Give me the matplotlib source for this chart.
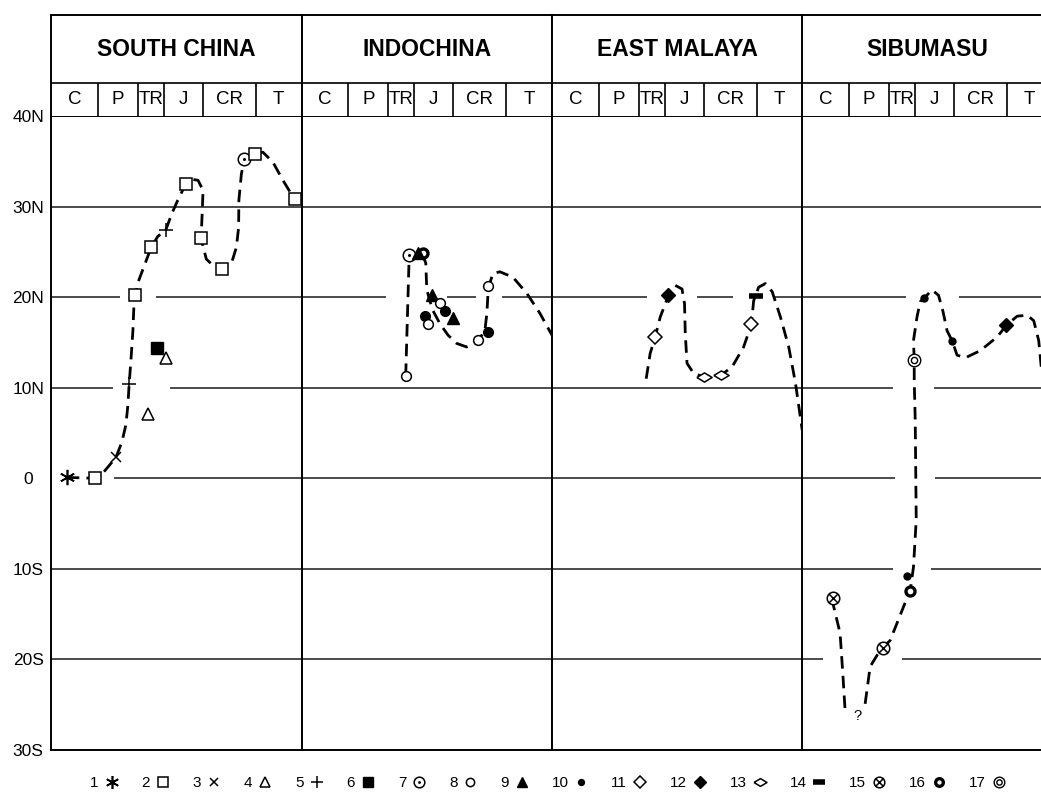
import numpy as np
import matplotlib
matplotlib.use('Agg')
import matplotlib.pyplot as plt
from matplotlib.lines import Line2D
from matplotlib.path import Path

plt.rcParams['font.family'] = ['Liberation Sans', 'DejaVu Sans']

# Time axis: 0-100 across each terrane column, period boundaries as drawn
PERIODS = ['C', 'P', 'TR', 'J', 'CR', 'T']
PERIOD_EDGES = [0, 18.7, 34.7, 45.0, 60.6, 81.7, 100]
LAT_TICKS = [-30, -20, -10, 0, 10, 20, 30, 40]
LAT_LABELS = ['30S', '20S', '10S', '0', '10N', '20N', '30N', '40N']
GRID_LATS = [30, 20, 10, 0, -10, -20]

# South China
sc_pts_u = [6.3, 17.5, 25.9, 31.2, 33.7, 42.4, 45.8, 38.9, 40.0, 45.8, 53.8, 59.9, 68.4, 77.2, 81.4, 97.3]
sc_pts_lat = [0.1, 0.0, 2.3, 10.4, 20.2, 14.4, 13.3, 7.1, 25.5, 27.4, 32.5, 26.5, 23.1, 35.2, 35.8, 30.8]
sc_pts_sym = [1, 2, 3, 5, 2, 6, 4, 4, 2, 5, 2, 2, 2, 7, 2, 2]
sc_curve_u = [6.3, 17.5, 21.1, 25.9, 28.3, 29.9, 30.7, 31.2, 31.9, 32.7, 33.1, 33.7, 34.7, 38.1, 40.0,
              42.6, 45.8, 48.2, 50.6, 53.8, 56.5, 58.7, 60.7, 60.4, 60.0, 59.9, 62.0, 64.7, 68.4, 72.0,
              74.0, 74.9, 75.0, 76.0, 77.2, 81.4, 84.6, 88.6, 92.6, 95.9, 97.3]
sc_curve_lat = [0.1, 0.0, 0.7, 2.3, 4.0, 5.9, 8.1, 10.4, 13.0, 16.3, 19.1, 20.1, 21.6, 24.1, 25.5,
                26.7, 27.4, 29.2, 30.7, 32.5, 33.0, 32.9, 31.8, 29.6, 27.0, 26.5, 24.2, 23.5, 23.1, 23.7,
                25.5, 27.7, 30.7, 33.6, 35.2, 35.8, 36.0, 34.9, 32.9, 31.4, 30.8]
sc_gaps = {20: [(27.5, 41.8)], 10: [(24.6, 47.4)], 0: [(0, 25.1)]}

# Indochina
ic_pts_u = [42.9, 41.6, 48.6, 46.6, 51.9, 55.2, 57.2, 60.3, 49.2, 50.5, 70.5, 74.5, 74.5]
ic_pts_lat = [24.7, 11.3, 24.9, 24.9, 20.2, 19.3, 18.5, 17.7, 17.9, 17.0, 15.3, 16.1, 21.2]
ic_pts_sym = [7, 8, 16, 9, 9, 8, '10b', 9, '10b', 8, 8, '10b', 8]
ic_curve_u = [41.6, 42.3, 43.0, np.nan,
              48.0, 49.6, 50.0, 51.0, 52.5, 55.2, 58.5, 61.9, 65.9, 70.0, 73.2, 74.0, 74.4, 74.8,
              76.4, 79.2, 84.4, 90.0, 95.2, 100.0]
ic_curve_lat = [11.3, 18.0, 24.7, np.nan,
                24.8, 23.8, 20.9, 19.8, 18.5, 17.1, 15.8, 14.9, 14.5, 15.0, 16.3, 18.2, 20.2, 21.2,
                22.6, 22.8, 22.2, 20.4, 18.2, 15.8]
ic_gaps = {20: [(33.9, 57.9), (69.6, 79.9)]}

# East Malaya
em_pts_u = [41.2, 46.5, 60.5, 67.5, 79.6, 81.5]
em_pts_lat = [15.6, 20.2, 11.2, 11.4, 17.0, 20.1]
em_pts_sym = [11, 12, 13, 13, 11, 14]
em_curve_u = [37.6, 39.2, 41.2, 43.2, 46.5, 49.2, 51.9, 52.9, 53.2, 53.9, 56.5, 60.5, 67.5, 71.9,
              76.5, 79.6, 80.5, 82.5, 85.2, 87.9, 91.2, 94.5, 97.2, 99.9]
em_curve_lat = [11.0, 13.8, 15.6, 17.8, 20.2, 21.3, 20.9, 19.3, 16.0, 12.7, 11.6, 11.2, 11.4, 12.3,
                14.5, 17.0, 19.6, 21.1, 21.5, 20.6, 17.8, 14.5, 10.5, 5.3]
em_gaps = {20: [(38.1, 57.9), (72.3, 88.8)]}

# Sibumasu
sb_pts_u = [12.5, 32.3, 42.1, 43.2, 44.8, 48.8, 59.9, 81.6]
sb_pts_lat = [-13.2, -18.7, -10.8, -12.4, 13.1, 19.9, 15.2, 16.9]
sb_pts_sym = [15, 15, 10, 16, 17, 10, 10, 12]
sb_curve_u = [12.5, 12.5, 15.2, 16.3, 17.2, np.nan, 25.2, 27.2, 30.5, 32.3, 35.2, 40.5, 43.2, 44.5,
              45.6, 45.2, 44.8, 44.8, 44.5, 45.9, 47.2, 48.8, 51.9, 54.5, 56.3, 57.9, 59.9, 61.9,
              65.2, 71.2, 77.9, 81.6, 85.9, 89.9, 92.5, 94.5, 95.5, 97.2]
sb_curve_lat = [-13.2, -14.0, -17.1, -21.6, -25.6, np.nan, -24.9, -20.8, -19.3, -18.7, -17.9, -14.2,
                -12.4, -9.8, -4.6, 6.4, 10.8, 13.1, 15.2, 17.8, 19.5, 19.9, 20.8, 20.2, 18.4, 16.3,
                15.2, 13.6, 13.3, 14.1, 15.6, 16.9, 17.9, 18.0, 17.4, 15.2, 12.3, 8.6]
sb_gaps = {20: [(41.6, 62.5)], 10: [(36.3, 52.5)], 0: [(37.2, 53.2)],
           -10: [(36.5, 51.5)], -20: [(8.3, 39.9)]}
sb_query = (22.1, -26.2)

PANELS = [
    ('SOUTH CHINA', sc_pts_u, sc_pts_lat, sc_pts_sym, sc_curve_u, sc_curve_lat, sc_gaps),
    ('INDOCHINA', ic_pts_u, ic_pts_lat, ic_pts_sym, ic_curve_u, ic_curve_lat, ic_gaps),
    ('EAST MALAYA', em_pts_u, em_pts_lat, em_pts_sym, em_curve_u, em_curve_lat, em_gaps),
    ('SIBUMASU', sb_pts_u, sb_pts_lat, sb_pts_sym, sb_curve_u, sb_curve_lat, sb_gaps),
]


def ring_path(inner, extra=None):
    circ = Path.unit_circle()
    parts = [circ]
    if inner:
        parts.append(Path(circ.vertices * inner, circ.codes))
    if extra:
        parts.extend(extra)
    return Path.make_compound_path(*parts)


DOT_RING = ring_path(0.12)
DOUBLE_RING = ring_path(0.5)
CROSS_RING = ring_path(None, [Path([(-0.7, -0.7), (0.7, 0.7)], [Path.MOVETO, Path.LINETO]),
                              Path([(-0.7, 0.7), (0.7, -0.7)], [Path.MOVETO, Path.LINETO])])
WIDE_DIAMOND = [(-1.5, 0), (0, 0.9), (1.5, 0), (0, -0.9), (-1.5, 0)]

STYLE = {
    1: dict(marker=(6, 2, 0), ms=11, mec='k', mew=1.2),
    2: dict(marker='s', ms=8, mfc='w', mec='k', mew=1.1),
    3: dict(marker='x', ms=7.5, mec='k', mew=1.1),
    4: dict(marker='^', ms=8.5, mfc='w', mec='k', mew=1.1),
    5: dict(marker='+', ms=10.5, mec='k', mew=1.1),
    6: dict(marker='s', ms=8, mfc='k', mec='k'),
    7: dict(marker=DOT_RING, ms=9, mfc='w', mec='k', mew=1.1),
    8: dict(marker='o', ms=7, mfc='w', mec='k', mew=1.1),
    9: dict(marker='^', ms=8, mfc='k', mec='k'),
    10: dict(marker='o', ms=5, mfc='k', mec='k'),
    '10b': dict(marker='o', ms=7, mfc='k', mec='k'),
    11: dict(marker='D', ms=7.5, mfc='w', mec='k', mew=1.1),
    12: dict(marker='D', ms=7.5, mfc='k', mec='k'),
    13: dict(marker=WIDE_DIAMOND, ms=11, mfc='w', mec='k', mew=1.1),
    14: dict(marker='_', ms=10, mec='k', mew=4),
    15: dict(marker=CROSS_RING, ms=9, mfc='w', mec='k', mew=1.1),
    16: dict(marker='o', ms=6.5, mfc='w', mec='k', mew=2.4),
    17: dict(marker=DOUBLE_RING, ms=9, mfc='w', mec='k', mew=1.0),
}

W, H = 1041, 800
PANEL_LEFT = [51, 301.5, 552, 802]
PANEL_W = 250.5
PLOT_TOP, PLOT_BOT, HDR_TOP, HDR_MID = 116, 750, 15, 83
PERIOD_FRAC = (PLOT_TOP - HDR_MID) / (PLOT_TOP - HDR_TOP)


def grid_segments(gaps):
    # pieces of a 0-100 line left after removing gaps
    segs, start = [], 0
    for g0, g1 in sorted(gaps):
        if g0 > start:
            segs.append((start, g0))
        start = g1
    if start < 100:
        segs.append((start, 100))
    return segs


fig = plt.figure(figsize=(W / 100, H / 100), dpi=100)
fig.patch.set_facecolor('white')

for i, (title, pu, plat, psym, cu, clat, gaps) in enumerate(PANELS):
    left = PANEL_LEFT[i] / W
    width = PANEL_W / W
    ax = fig.add_axes([left, 1 - PLOT_BOT / H, width, (PLOT_BOT - PLOT_TOP) / H])
    ax.set_xlim(0, 100)
    ax.set_ylim(-30, 40)
    for s in ax.spines.values():
        s.set_linewidth(1.4)
    ax.set_xticks([])
    ax.set_yticks(LAT_TICKS)
    if i == 0:
        ax.set_yticklabels(LAT_LABELS, fontsize=12.5)
        ax.tick_params(axis='y', length=0, pad=16.5)
        for lbl in ax.get_yticklabels():
            lbl.set_ha('center')
    else:
        ax.set_yticklabels([])
        ax.tick_params(axis='y', length=0)

    for lat in GRID_LATS:
        for x0, x1 in grid_segments(gaps.get(lat, [])):
            ax.hlines(lat, x0, x1, color='#1a1a1a', lw=1.1, zorder=1)

    ax.plot(cu, clat, color='k', lw=2.0, dashes=(4.5, 2.6), zorder=3)
    for u, lat, sym in zip(pu, plat, psym):
        ax.plot([u], [lat], ls='none', zorder=4, **STYLE[sym])
    if title == 'SIBUMASU':
        ax.text(sb_query[0], sb_query[1], '?', ha='center', va='center', fontsize=10.5)

    hdr = fig.add_axes([left, 1 - PLOT_TOP / H, width, (PLOT_TOP - HDR_TOP) / H])
    hdr.set_xlim(0, 100)
    hdr.set_ylim(0, 1)
    hdr.set_xticks([])
    hdr.set_yticks([])
    for s in hdr.spines.values():
        s.set_linewidth(1.4)
    hdr.spines['bottom'].set_visible(False)
    hdr.axhline(PERIOD_FRAC, color='k', lw=1.2)
    hdr.vlines(PERIOD_EDGES[1:-1], 0, PERIOD_FRAC, color='k', lw=1.2)
    hdr.text(50, (1 + PERIOD_FRAC) / 2, title, ha='center', va='center',
             fontsize=16.5, fontweight='bold')
    for name, a, b in zip(PERIODS, PERIOD_EDGES[:-1], PERIOD_EDGES[1:]):
        hdr.text((a + b) / 2, PERIOD_FRAC / 2, name, ha='center', va='center', fontsize=13.5)

handles = [Line2D([], [], ls='none', **STYLE[k]) for k in range(1, 18)]
labels = [str(k) for k in range(1, 18)]
fig.legend(handles, labels, loc='center', bbox_to_anchor=(0.527, 0.021), ncol=17,
           frameon=False, markerfirst=False, handlelength=1.1, handletextpad=0.3,
           columnspacing=1.4, fontsize=11, markerscale=0.85)

fig.savefig('out.png', dpi=100)
